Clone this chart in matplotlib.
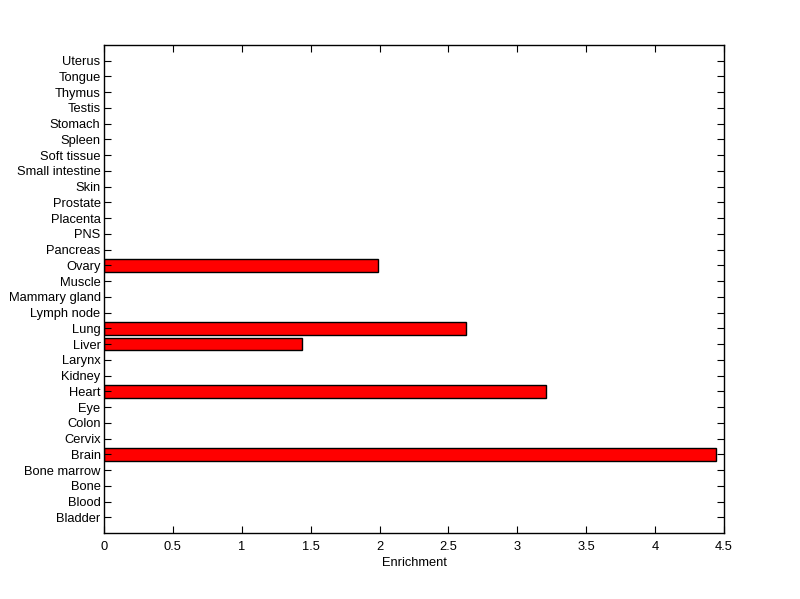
import matplotlib
matplotlib.use("Agg")
import matplotlib.pyplot as plt
import numpy as np

tissues = ["Bladder", "Blood", "Bone", "Bone marrow", "Brain", "Cervix", "Colon", "Eye",
           "Heart", "Kidney", "Larynx", "Liver", "Lung", "Lymph node", "Mammary gland",
           "Muscle", "Ovary", "Pancreas", "PNS", "Placenta", "Prostate", "Skin",
           "Small intestine", "Soft tissue", "Spleen", "Stomach", "Testis", "Thymus",
           "Tongue", "Uterus"]
enrichment = [0, 0, 0, 0, 4.445, 0, 0, 0,
              3.21, 0, 0, 1.44, 2.625, 0, 0,
              0, 1.986, 0, 0, 0, 0, 0,
              0, 0, 0, 0, 0, 0,
              0, 0]
xticks = [0, 0.5, 1, 1.5, 2, 2.5, 3, 3.5, 4, 4.5]
xticklabels = ["0", "0.5", "1", "1.5", "2", "2.5", "3", "3.5", "4", "4.5"]

plt.rcParams['font.family'] = ['Liberation Sans', 'DejaVu Sans']
fig = plt.figure(figsize=(8, 5.99), dpi=100)
ax = fig.add_axes([0.13, 1 - 533/599, 0.775, (533 - 45)/599])

pos = np.arange(1, len(tissues) + 1)
vals = np.array(enrichment)
mask = vals > 0
ax.barh(pos[mask], vals[mask], height=0.8, color='#ff0000', edgecolor='black', linewidth=1)

ax.set_xlim(0, 4.5)
ax.set_ylim(0, len(tissues) + 1)
ax.set_yticks(pos)
ax.set_yticklabels(tissues, fontsize=9.3)
ax.set_xticks(xticks)
ax.set_xticklabels(xticklabels, fontsize=9.3)
ax.set_xlabel("Enrichment", fontsize=9.3, labelpad=3)
ax.tick_params(direction='in', length=5, width=0.8, top=True, right=True)
ax.tick_params(axis='x', pad=6)
ax.tick_params(axis='y', pad=2.5)
for s in ax.spines.values():
    s.set_linewidth(1)

fig.savefig("out.png", dpi=100)
